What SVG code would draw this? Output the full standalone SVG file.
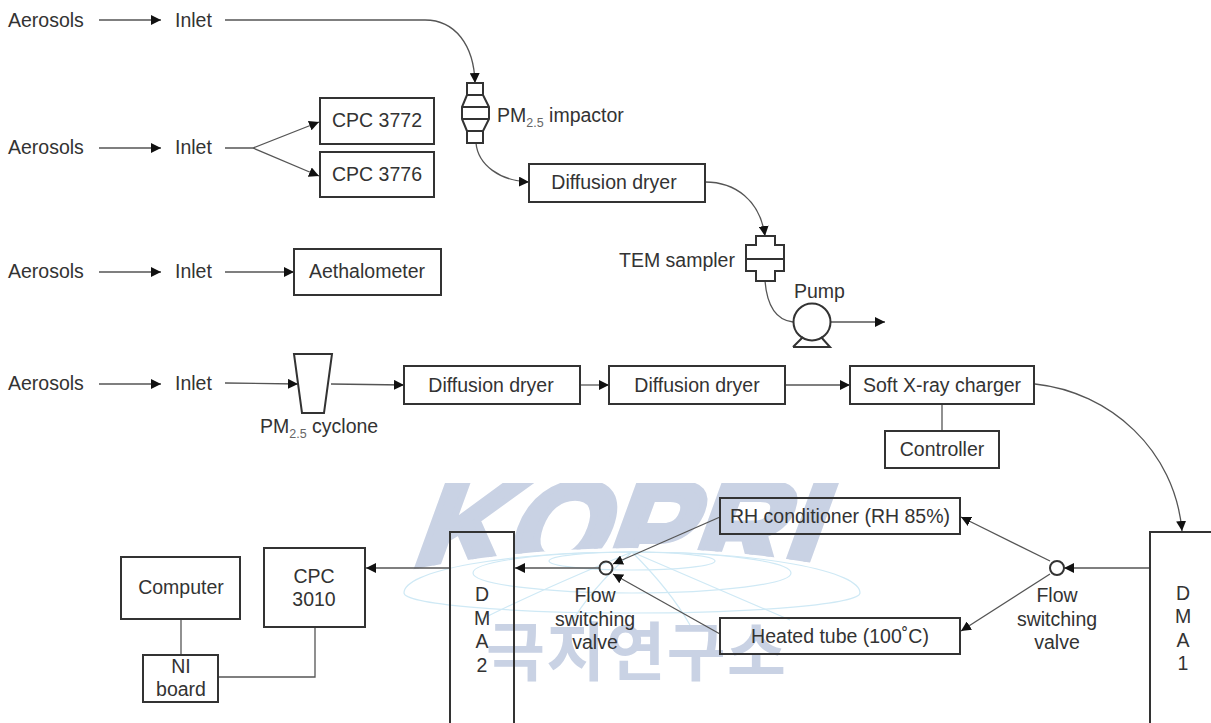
<svg xmlns="http://www.w3.org/2000/svg" width="1211" height="723" viewBox="0 0 1211 723">
<style>
text{font-family:"Liberation Sans",Arial,sans-serif;font-size:19.5px;fill:#333}
.m{text-anchor:middle}
.s{font-size:12.5px;fill:#666}
.b{fill:none;stroke:#333;stroke-width:2}
.e{fill:#fff;stroke:#333;stroke-width:2}
.d{fill:none;stroke:#333;stroke-width:2}
.c{fill:none;stroke:#555;stroke-width:1.3}
.g{fill:none;stroke:#cfe9f5;stroke-width:1.2}
.w{fill:#c9d2e4;font-weight:bold}
</style>
<defs>
<marker id="a" markerUnits="userSpaceOnUse" markerWidth="11" markerHeight="10" refX="10" refY="5" orient="auto"><path d="M0 0L10 5L0 10Z" fill="#111"/></marker>
<clipPath id="kc"><path d="M400 483H860V572Q632 524 400 572Z"/></clipPath>
</defs>
<rect width="1211" height="723" fill="#fff"/>
<g id="watermark">
<g clip-path="url(#kc)"><text class="w" transform="translate(408 571) skewX(-20)" x="0" y="0" style="font-size:126px;stroke:#c9d2e4;stroke-width:7" textLength="404" lengthAdjust="spacingAndGlyphs">KOPRI</text></g>
<path class="g" d="M404 593A228 41 0 0 1 860 593A228 20 0 0 1 404 593Z"/>
<path class="g" d="M473 573A159 21 0 0 1 791 573A159 20 0 0 1 473 573Z"/>
<ellipse class="g" cx="632" cy="561" rx="83" ry="9"/>
<path class="g" d="M632 552Q540 590 480 620M632 552Q720 590 790 620M632 552Q590 590 570 625M632 552Q670 590 690 625"/>
<text class="w m" x="636" y="675" style="font-family:'Noto Sans CJK KR',sans-serif;font-size:64px" textLength="300" lengthAdjust="spacing">극지연구소</text>
</g>
<g id="connectors">
<path class="c" marker-end="url(#a)" d="M99 20H161"/>
<path class="c" marker-end="url(#a)" d="M225 20H425C455 20 474 45 475 83"/>
<path class="c" marker-end="url(#a)" d="M476 143C478 165 500 181 529 182"/>
<path class="c" marker-end="url(#a)" d="M705 182C735 182 760 200 765 236"/>
<path class="c" d="M765 281C767 305 775 320 793 322"/>
<path class="c" marker-end="url(#a)" d="M831 322H885"/>
<path class="c" marker-end="url(#a)" d="M99 148H161"/>
<path class="c" marker-end="url(#a)" d="M225 148H253L319 122"/>
<path class="c" marker-end="url(#a)" d="M253 148L319 176"/>
<path class="c" marker-end="url(#a)" d="M99 272H161"/>
<path class="c" marker-end="url(#a)" d="M225 272H294"/>
<path class="c" marker-end="url(#a)" d="M99 384H161"/>
<path class="c" marker-end="url(#a)" d="M225 383L298 384"/>
<path class="c" marker-end="url(#a)" d="M331 384L404 385"/>
<path class="c" marker-end="url(#a)" d="M581 385H609"/>
<path class="c" marker-end="url(#a)" d="M786 385H850"/>
<path class="c" d="M942 404V431"/>
<path class="c" marker-end="url(#a)" d="M1035 384C1110 392 1175 450 1182 531"/>
<path class="c" marker-end="url(#a)" d="M1150 568H1064"/>
<path class="c" marker-end="url(#a)" d="M1050 561L961 517"/>
<path class="c" marker-end="url(#a)" d="M1050 574L961 631"/>
<path class="c" marker-end="url(#a)" d="M720 517L613 564"/>
<path class="c" marker-end="url(#a)" d="M720 634L613 574"/>
<path class="c" marker-end="url(#a)" d="M599 568H515"/>
<path class="c" marker-end="url(#a)" d="M449 568H366"/>
<path class="c" d="M181 619V655"/>
<path class="c" d="M218 677H315V627"/>
</g>
<g id="aerosols-1"><text x="8" y="27">Aerosols</text></g>
<g id="inlet-1"><text x="175" y="27">Inlet</text></g>
<g id="aerosols-2"><text x="8" y="154">Aerosols</text></g>
<g id="inlet-2"><text x="175" y="154">Inlet</text></g>
<g id="aerosols-3"><text x="8" y="278">Aerosols</text></g>
<g id="inlet-3"><text x="175" y="278">Inlet</text></g>
<g id="aerosols-4"><text x="8" y="390">Aerosols</text></g>
<g id="inlet-4"><text x="175" y="390">Inlet</text></g>
<g id="pm25-impactor">
<path class="e" d="M467 83H483V95L489 107V119L483 131V143H467V131L462 119V107L467 95Z"/>
<path class="d" d="M462 107H489M462 119H489M467 95H483M467 131H483"/>
<text x="497" y="122">PM<tspan class="s" dy="5">2.5</tspan><tspan dy="-5"> impactor</tspan></text>
</g>
<g id="cpc-3772"><rect class="b" x="320" y="98" width="114" height="46"/><text class="m" x="377" y="127">CPC 3772</text></g>
<g id="cpc-3776"><rect class="b" x="320" y="152" width="114" height="45"/><text class="m" x="377" y="181">CPC 3776</text></g>
<g id="diffusion-dryer-1"><rect class="b" x="529" y="164" width="176" height="38"/><text class="m" x="614" y="189">Diffusion dryer</text></g>
<g id="tem-sampler">
<path class="e" d="M756 236H775V245H784V271H775V281H756V271H746V245H756Z"/>
<path class="d" d="M746 259H784"/>
<text x="619" y="267">TEM sampler</text>
</g>
<g id="pump">
<circle class="e" cx="812" cy="322" r="18.5"/>
<path class="d" d="M793 347H830L821 337M793 347L803 337"/>
<text x="794" y="298">Pump</text>
</g>
<g id="aethalometer"><rect class="b" x="294" y="249" width="147" height="46"/><text class="m" x="367" y="278">Aethalometer</text></g>
<g id="pm25-cyclone">
<path class="e" d="M294 354H332L324 413H302Z"/>
<text x="260" y="433">PM<tspan class="s" dy="5">2.5</tspan><tspan dy="-5"> cyclone</tspan></text>
</g>
<g id="diffusion-dryer-2"><rect class="b" x="404" y="366" width="176" height="38"/><text class="m" x="491" y="392">Diffusion dryer</text></g>
<g id="diffusion-dryer-3"><rect class="b" x="609" y="366" width="176" height="38"/><text class="m" x="697" y="392">Diffusion dryer</text></g>
<g id="soft-x-ray-charger"><rect class="b" x="850" y="366" width="184" height="38"/><text class="m" x="942" y="392">Soft X-ray charger</text></g>
<g id="controller"><rect class="b" x="885" y="431" width="114" height="37"/><text class="m" x="942" y="456">Controller</text></g>
<g id="rh-conditioner"><rect class="b" x="720" y="498" width="240" height="36"/><text class="m" x="840" y="523">RH conditioner (RH 85%)</text></g>
<g id="heated-tube"><rect class="b" x="720" y="618" width="240" height="36"/><text class="m" x="840" y="643">Heated tube (100˚C)</text></g>
<g id="valve-1"><circle class="e" cx="1057" cy="568" r="7"/><text class="m" x="1057" y="602">Flow</text><text class="m" x="1057" y="626">switching</text><text class="m" x="1057" y="649">valve</text></g>
<g id="valve-2"><circle class="d" cx="606" cy="568" r="6.5"/><text class="m" x="595" y="602">Flow</text><text class="m" x="595" y="626">switching</text><text class="m" x="595" y="649">valve</text></g>
<g id="dma-1"><path class="b" d="M1150 723V532H1211"/><text class="m" x="1183" y="600">D</text><text class="m" x="1183" y="623">M</text><text class="m" x="1183" y="647">A</text><text class="m" x="1183" y="670">1</text></g>
<g id="dma-2"><path class="b" d="M450 723V532H514V723"/><text class="m" x="482" y="601">D</text><text class="m" x="482" y="625">M</text><text class="m" x="482" y="648">A</text><text class="m" x="482" y="672">2</text></g>
<g id="cpc-3010"><rect class="b" x="264" y="548" width="101" height="79"/><text class="m" x="314" y="583">CPC</text><text class="m" x="314" y="606">3010</text></g>
<g id="computer"><rect class="b" x="121" y="557" width="119" height="62"/><text class="m" x="181" y="594">Computer</text></g>
<g id="ni-board"><rect class="b" x="143" y="655" width="75" height="47"/><text class="m" x="181" y="673">NI</text><text class="m" x="181" y="696">board</text></g>
</svg>
